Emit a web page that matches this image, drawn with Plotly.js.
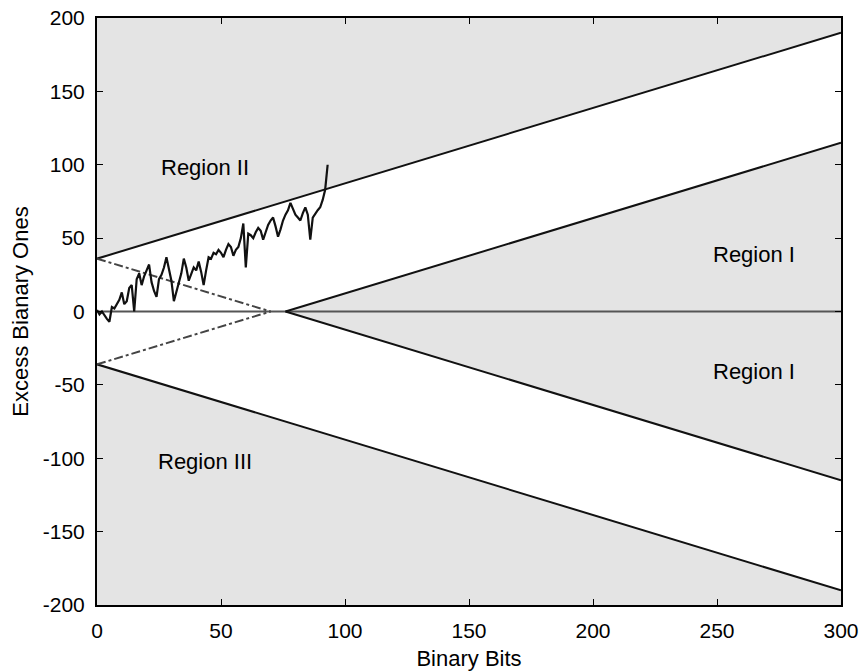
<!DOCTYPE html>
<html>
<head>
<meta charset="utf-8">
<script src="https://cdn.plot.ly/plotly-3.0.1.min.js"></script>
<style>html,body{margin:0;padding:0;background:#fff;}#chart{width:862px;height:671px;}</style>
</head>
<body>
<div id="chart"></div>
<script>
// Random walk: excess binary ones vs number of bits
const walkX = [];
for (let i = 0; i <= 93; i++) walkX.push(i);
const walkY = [1,-2,0,-3,-5,-7,3,2,5,8,13,5,7,16,18,0,22,26,18,24,
  28,32,20,14,10,22,25,30,37,28,21,7,14,19,26,36,30,21,26,30,
  28,34,27,18,28,37,36,40,39,42,40,37,42,46,44,38,42,44,50,60,
  30,53,52,50,54,57,55,49,54,59,62,64,58,51,56,62,66,69,74,70,
  66,64,62,67,71,66,49,64,67,69,71,76,83,100];

// Outer boundary lines
const outerX = [0, 300];
const outerUpper = [36, 190];
const outerLower = [-36, -190];
// Inner boundary lines (Region I)
const innerX = [76, 300];
const innerUpper = [0, 115];
const innerLower = [0, -115];
// Dash-dot extensions toward the crossing point
const dashX = [0, 70];
const dashUpper = [36, 0];
const dashLower = [-36, 0];
// Zero line
const zeroX = [0, 300];
const zeroY = [0, 0];

const xRange = [0, 300];
const yRange = [-200, 200];
const xTicks = [0, 50, 100, 150, 200, 250, 300];
const xTickText = ["0", "50", "100", "150", "200", "250", "300"];
const yTicks = [200, 150, 100, 50, 0, -50, -100, -150, -200];
const yTickText = ["200", "150", "100", "50", "0", "-50", "-100", "-150", "-200"];

// Region labels
const labelText = ["Region II", "Region I", "Region I", "Region III"];
const labelX = [43.5, 265, 265, 43.5];
const labelY = [98, 39, -41, -102];

const fillColor = "#e4e4e4";
const traces = [
  { // Region II
    x: [outerX[0], outerX[1], xRange[1], xRange[0]],
    y: [outerUpper[0], outerUpper[1], yRange[1], yRange[1]],
    fill: "toself", fillcolor: fillColor, mode: "lines", line: {width: 0}, hoverinfo: "skip"
  },
  { // Region III
    x: [outerX[0], outerX[1], xRange[1], xRange[0]],
    y: [outerLower[0], outerLower[1], yRange[0], yRange[0]],
    fill: "toself", fillcolor: fillColor, mode: "lines", line: {width: 0}, hoverinfo: "skip"
  },
  { // Region I
    x: [innerX[0], innerX[1], innerX[1]],
    y: [innerUpper[0], innerUpper[1], innerLower[1]],
    fill: "toself", fillcolor: fillColor, mode: "lines", line: {width: 0}, hoverinfo: "skip"
  },
  { x: zeroX, y: zeroY, mode: "lines", line: {color: "#555", width: 2} },
  { x: outerX, y: outerUpper, mode: "lines", line: {color: "#111", width: 2} },
  { x: outerX, y: outerLower, mode: "lines", line: {color: "#111", width: 2} },
  { x: innerX, y: innerUpper, mode: "lines", line: {color: "#111", width: 2} },
  { x: innerX, y: innerLower, mode: "lines", line: {color: "#111", width: 2} },
  { x: dashX, y: dashUpper, mode: "lines", line: {color: "#444", width: 2, dash: "dashdot"} },
  { x: dashX, y: dashLower, mode: "lines", line: {color: "#444", width: 2, dash: "dashdot"} },
  { x: walkX, y: walkY, mode: "lines", line: {color: "#111", width: 2.2} }
];

const tickFont = {family: "Liberation Sans, Arial, sans-serif", size: 21, color: "#000"};
const titleFont = {family: "Liberation Sans, Arial, sans-serif", size: 22, color: "#000"};
const labelFont = {family: "Liberation Sans, Arial, sans-serif", size: 22, color: "#000"};
const layout = {
  width: 862, height: 671,
  margin: {l: 97, r: 21, t: 18, b: 66},
  paper_bgcolor: "#fff", plot_bgcolor: "#fff",
  showlegend: false,
  font: tickFont,
  xaxis: {
    range: xRange, tickmode: "array", tickvals: xTicks, ticktext: xTickText,
    ticks: "inside", ticklen: 6, tickcolor: "#000",
    showline: true, linecolor: "#000", linewidth: 2, mirror: "ticks",
    showgrid: false, zeroline: false, ticklabelstandoff: 6,
    tickfont: tickFont,
    title: {text: "Binary Bits", font: titleFont, standoff: 14}
  },
  yaxis: {
    range: yRange, tickmode: "array", tickvals: yTicks, ticktext: yTickText,
    ticks: "inside", ticklen: 6, tickcolor: "#000",
    showline: true, linecolor: "#000", linewidth: 2, mirror: "ticks",
    showgrid: false, zeroline: false, ticklabelstandoff: 6,
    tickfont: tickFont,
    title: {text: "Excess Bianary Ones", font: titleFont, standoff: 8}
  },
  annotations: labelText.map((t, i) => ({
    x: labelX[i], y: labelY[i], text: t, showarrow: false, font: labelFont
  }))
};
Plotly.newPlot("chart", traces, layout, {staticPlot: true});
</script>
</body>
</html>
